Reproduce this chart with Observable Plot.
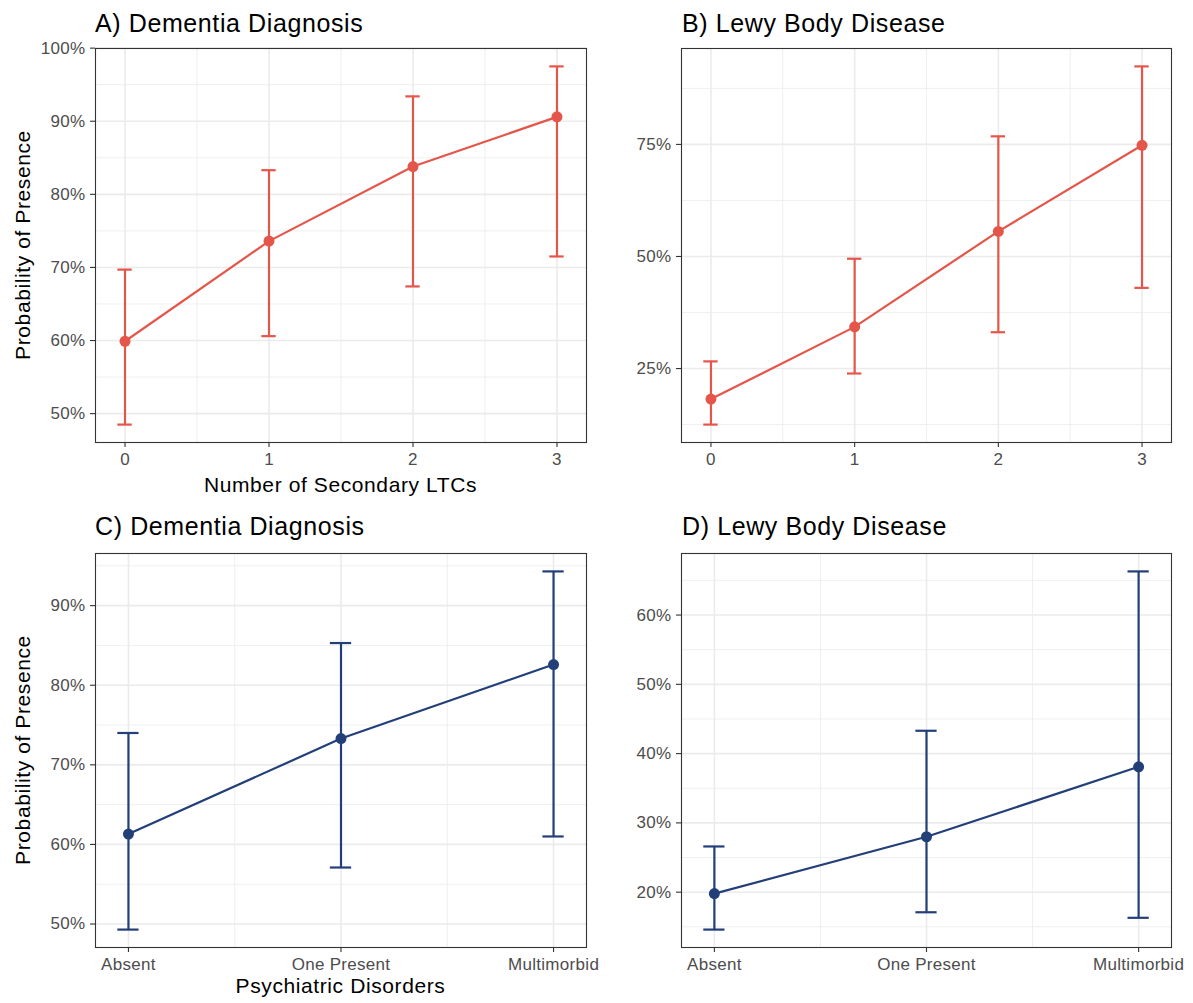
<!DOCTYPE html>
<html>
<head>
<meta charset="utf-8">
<script src="https://cdn.jsdelivr.net/npm/d3@7"></script>
<script src="https://cdn.jsdelivr.net/npm/@observablehq/plot@0.6"></script>
<style>
  body { margin: 0; background: #fff; font-family: "Liberation Sans", Arial, sans-serif; }
  #root { position: relative; width: 1193px; height: 1003px; overflow: hidden; background: #fff; }
  .title { position: absolute; font-size: 25px; letter-spacing: 0.6px; color: #000; white-space: nowrap; line-height: 1; }
  .xlab { position: absolute; font-size: 21px; letter-spacing: 0.6px; color: #000; white-space: nowrap; line-height: 1; transform: translateX(-50%); }
  .ylab { position: absolute; font-size: 21px; letter-spacing: 0.6px; color: #000; white-space: nowrap; line-height: 1; transform: translate(-50%, -50%) rotate(-90deg); }
  .panel { position: absolute; }
  .panel svg { overflow: visible; }
  .panel svg text { letter-spacing: 0.3px; }
</style>
</head>
<body>
<div id="root">
  <div class="title" style="left:95px; top:10.8px;">A) Dementia Diagnosis</div>
  <div class="title" style="left:682px; top:10.8px;">B) Lewy Body Disease</div>
  <div class="title" style="left:95px; top:513.8px;">C) Dementia Diagnosis</div>
  <div class="title" style="left:682px; top:513.8px;">D) Lewy Body Disease</div>
  <div class="xlab" style="left:340.5px; top:474.2px;">Number of Secondary LTCs</div>
  <div class="xlab" style="left:340.5px; top:975.2px;">Psychiatric Disorders</div>
  <div class="ylab" style="left:21.7px; top:245px;">Probability of Presence</div>
  <div class="ylab" style="left:21.7px; top:750px;">Probability of Presence</div>
  <div class="panel" id="pA" style="left:0px; top:40px;"></div>
  <div class="panel" id="pB" style="left:600px; top:40px;"></div>
  <div class="panel" id="pC" style="left:0px; top:545px;"></div>
  <div class="panel" id="pD" style="left:600px; top:545px;"></div>
</div>
<script>
// ---- Data (percent) ----
const ltcLevels = [0, 1, 2, 3];
const ltcDementiaEst = [59.9, 73.6, 83.8, 90.6];
const ltcDementiaLow = [48.5, 60.6, 67.4, 71.5];
const ltcDementiaHigh = [69.7, 83.3, 93.4, 97.5];

const ltcLewyEst = [18.2, 34.3, 55.6, 74.8];
const ltcLewyLow = [12.5, 23.9, 33.1, 43.0];
const ltcLewyHigh = [26.6, 49.5, 76.8, 92.4];

const psychLevels = ["Absent", "One Present", "Multimorbid"];
const psychPositions = [1, 2, 3];
const psychDementiaEst = [61.3, 73.3, 82.6];
const psychDementiaLow = [49.3, 57.1, 61.0];
const psychDementiaHigh = [74.0, 85.3, 94.3];

const psychLewyEst = [19.8, 28.0, 38.1];
const psychLewyLow = [14.6, 17.1, 16.3];
const psychLewyHigh = [26.6, 43.3, 66.3];

// tick values
const ticksYA = [50, 60, 70, 80, 90, 100];
const minorYA = [55, 65, 75, 85, 95];
const ticksYB = [25, 50, 75];
const minorYB = [12.5, 37.5, 62.5, 87.5];
const ticksYC = [50, 60, 70, 80, 90];
const minorYC = [55, 65, 75, 85, 95];
const ticksYD = [20, 30, 40, 50, 60];
const minorYD = [15, 25, 35, 45, 55, 65];
const ticksXLTC = [0, 1, 2, 3];
const minorXLTC = [0.5, 1.5, 2.5];
const ticksXPsych = [1, 2, 3];
const minorXPsych = [1.5, 2.5];

const RED = "#E5564A";
const BLUE = "#233F78";
const CAP = 0.05; // half-width of error bar caps (x units)
const FONT = "'Liberation Sans', Arial, sans-serif";

function rows(xs, est, lo, hi) {
  return xs.map((x, i) => ({x, est: est[i], lo: lo[i], hi: hi[i]}));
}
function expand(lo, hi) {
  const pad = (hi - lo) * 0.05;
  return [lo - pad, hi + pad];
}

function panel({data, color, ticksX, minorX, ticksY, minorY, tickFormatX, width, height, marginLeft, marginRight, marginBottom}) {
  const xdom = expand(d3.min(data, d => d.x) - CAP, d3.max(data, d => d.x) + CAP);
  const ydom = expand(d3.min(data, d => d.lo), d3.max(data, d => d.hi));
  const minorStyle = {stroke: "#ebebeb", strokeOpacity: 1, strokeWidth: 0.8};
  const majorStyle = {stroke: "#ebebeb", strokeOpacity: 1, strokeWidth: 1.6};
  return Plot.plot({
    width, height,
    marginLeft, marginRight, marginTop: 8, marginBottom,
    style: {fontFamily: FONT, fontSize: "17px", background: "transparent", overflow: "visible"},
    x: {type: "linear", domain: xdom},
    y: {type: "linear", domain: ydom},
    marks: [
      Plot.gridX(minorX, minorStyle),
      Plot.gridY(minorY, minorStyle),
      Plot.gridX(ticksX, majorStyle),
      Plot.gridY(ticksY, majorStyle),
      Plot.line(data, {x: "x", y: "est", stroke: color, strokeWidth: 2.2}),
      Plot.ruleX(data, {x: "x", y1: "lo", y2: "hi", stroke: color, strokeWidth: 2.2}),
      Plot.ruleY(data, {y: "hi", x1: d => d.x - CAP, x2: d => d.x + CAP, stroke: color, strokeWidth: 2.2}),
      Plot.ruleY(data, {y: "lo", x1: d => d.x - CAP, x2: d => d.x + CAP, stroke: color, strokeWidth: 2.2}),
      Plot.dot(data, {x: "x", y: "est", r: 5.5, fill: color}),
      Plot.axisX({ticks: ticksX, tickFormat: tickFormatX, tickSize: 5, tickPadding: 5,
        fill: "#4d4d4d", stroke: "#333333", strokeWidth: 1.1, label: null, fontSize: 17}),
      Plot.axisY({ticks: ticksY, tickFormat: d => d + "%", tickSize: 5, tickPadding: 5,
        fill: "#4d4d4d", stroke: "#333333", strokeWidth: 1.1, label: null, fontSize: 17}),
      Plot.frame({stroke: "#333333", strokeWidth: 1.1})
    ]
  });
}

document.getElementById("pA").append(panel({
  data: rows(ltcLevels, ltcDementiaEst, ltcDementiaLow, ltcDementiaHigh), color: RED,
  ticksX: ticksXLTC, minorX: minorXLTC, ticksY: ticksYA, minorY: minorYA, tickFormatX: d => String(d),
  width: 600, height: 470, marginLeft: 95, marginRight: 14, marginBottom: 68
}));
document.getElementById("pB").append(panel({
  data: rows(ltcLevels, ltcLewyEst, ltcLewyLow, ltcLewyHigh), color: RED,
  ticksX: ticksXLTC, minorX: minorXLTC, ticksY: ticksYB, minorY: minorYB, tickFormatX: d => String(d),
  width: 593, height: 470, marginLeft: 81, marginRight: 22, marginBottom: 68
}));
document.getElementById("pC").append(panel({
  data: rows(psychPositions, psychDementiaEst, psychDementiaLow, psychDementiaHigh), color: BLUE,
  ticksX: ticksXPsych, minorX: minorXPsych, ticksY: ticksYC, minorY: minorYC, tickFormatX: d => psychLevels[d - 1],
  width: 600, height: 458, marginLeft: 95, marginRight: 14, marginBottom: 56
}));
document.getElementById("pD").append(panel({
  data: rows(psychPositions, psychLewyEst, psychLewyLow, psychLewyHigh), color: BLUE,
  ticksX: ticksXPsych, minorX: minorXPsych, ticksY: ticksYD, minorY: minorYD, tickFormatX: d => psychLevels[d - 1],
  width: 593, height: 458, marginLeft: 81, marginRight: 22, marginBottom: 56
}));
</script>
</body>
</html>
